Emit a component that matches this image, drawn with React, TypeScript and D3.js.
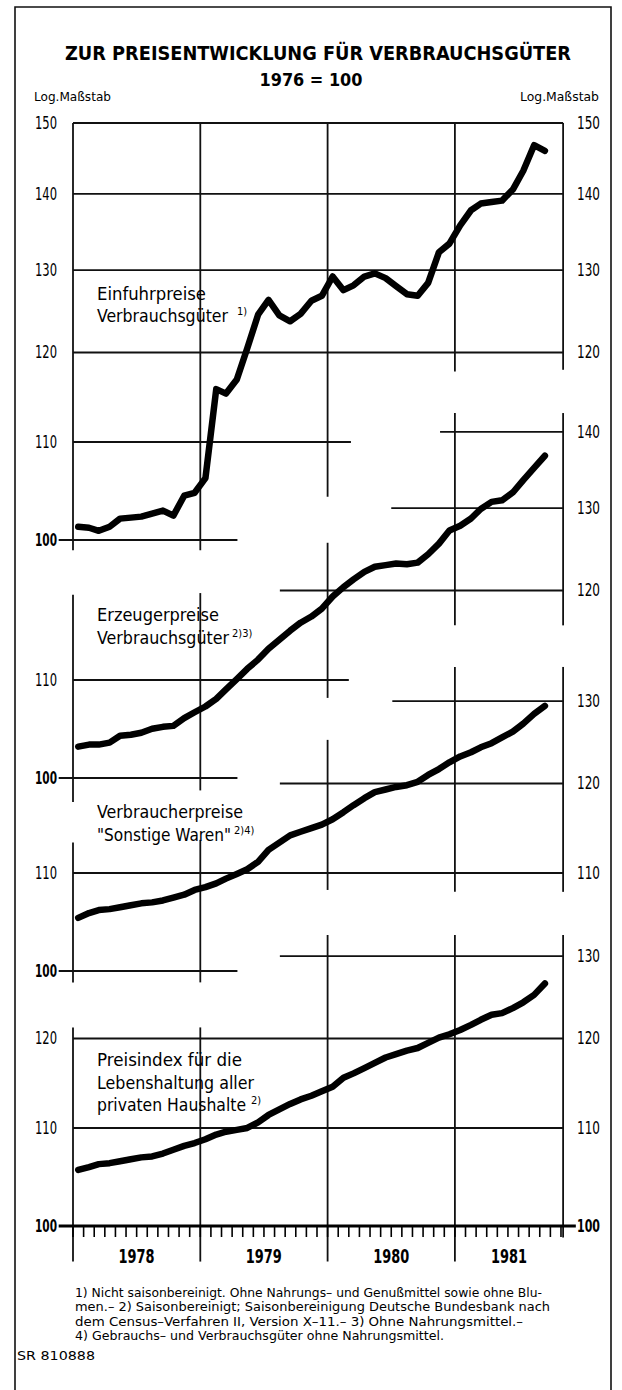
import React from "react";
import * as d3 from "d3";

// ---------- data ----------
const TITLE = "ZUR PREISENTWICKLUNG FÜR VERBRAUCHSGÜTER";
const SUBTITLE = "1976 = 100";
const SCALE_NOTE = "Log.Maßstab";
const YEARS = [1978, 1979, 1980, 1981];
// monthly observations Jan 1978 .. Sep 1981
const MONTHS = d3.timeMonth.range(new Date(1978, 0, 1), new Date(1981, 9, 1));

const EINFUHR = [
  101.3, 101.2, 100.9, 101.3, 102.1, 102.2, 102.3, 102.6, 102.9, 102.4, 104.4, 104.7,
  106.2, 115.8, 115.3, 116.9, 120.5, 124.5, 126.3, 124.4, 123.7, 124.6, 126.2, 126.8,
  129.2, 127.5, 128.1, 129.2, 129.6, 129.0, 128.0, 127.0, 126.8, 128.4, 132.3, 133.4,
  135.8, 137.8, 138.7, 138.9, 139.1, 140.6, 143.2, 146.8, 146.0,
];
const ERZEUGER = [
  103.1, 103.3, 103.3, 103.5, 104.2, 104.3, 104.5, 104.9, 105.1, 105.2, 106.0, 106.6,
  107.2, 108.0, 109.0, 110.1, 111.2, 112.2, 113.4, 114.4, 115.4, 116.3, 117.0, 117.9,
  119.3, 120.4, 121.3, 122.2, 122.8, 123.0, 123.2, 123.1, 123.3, 124.3, 125.6, 127.2,
  127.8, 128.7, 129.9, 130.8, 131.0, 132.0, 133.6, 135.2, 136.8,
];
const VERBRAUCHER = [
  105.3, 105.8, 106.1, 106.2, 106.4, 106.6, 106.8, 106.9, 107.1, 107.4, 107.7, 108.2,
  108.5, 108.9, 109.4, 109.9, 110.4, 111.2, 112.5, 113.3, 114.1, 114.5, 114.9, 115.3,
  115.9, 116.7, 117.5, 118.3, 119.0, 119.3, 119.6, 119.8, 120.2, 121.0, 121.7, 122.5,
  123.2, 123.7, 124.3, 124.8, 125.5, 126.2, 127.2, 128.4, 129.4,
];
const LEBENSHALTUNG = [
  105.6, 105.9, 106.2, 106.3, 106.5, 106.7, 106.9, 107.0, 107.3, 107.7, 108.1, 108.4,
  108.8, 109.3, 109.6, 109.8, 110.0, 110.6, 111.4, 112.0, 112.6, 113.1, 113.5, 114.0,
  114.5, 115.5, 116.0, 116.6, 117.2, 117.8, 118.2, 118.6, 118.9, 119.5, 120.1, 120.5,
  121.0, 121.6, 122.2, 122.8, 123.0, 123.6, 124.3, 125.2, 126.6,
];

const LABEL_EINFUHR = ["Einfuhrpreise", "Verbrauchsgüter"];
const LABEL_ERZEUGER = ["Erzeugerpreise", "Verbrauchsgüter"];
const LABEL_VERBRAUCHER = ["Verbraucherpreise", "\"Sonstige Waren\""];
const LABEL_LEBENSHALTUNG = ["Preisindex für die", "Lebenshaltung aller", "privaten Haushalte"];

const FOOTNOTES = [
  "1) Nicht saisonbereinigt. Ohne Nahrungs– und Genußmittel sowie ohne Blu-",
  "men.– 2) Saisonbereinigt; Saisonbereinigung Deutsche Bundesbank nach",
  "dem Census–Verfahren II, Version X–11.– 3) Ohne Nahrungsmittel.–",
  "4) Gebrauchs– und Verbrauchsgüter ohne Nahrungsmittel.",
];
const SOURCE = "SR 810888";

// ---------- layout ----------
const W = 622;
const H = 1390;
const FONT = "'DejaVu Sans Condensed', 'Liberation Sans Narrow', 'Arial Narrow', 'DejaVu Sans', sans-serif";
const YEAR_W = 127.3;
const x = d3
  .scaleTime()
  .domain([new Date(1978, 0, 1), new Date(1982, 0, 1)])
  .range([73, 73 + 4 * YEAR_W]);
const MONTH_W = YEAR_W / 12;
const xm = (m: number) => x(new Date(1978, 0, 1)) + m * MONTH_W;
const END = 46.2;
const PX_PER_DECADE = 2368;
const yFor = (y100: number) =>
  d3.scaleLog().domain([100, 150]).range([y100, y100 - PX_PER_DECADE * Math.log10(1.5)]);

type Panel = {
  data: number[];
  y100: number;
  hgrid: [number, number, number][];
  vgrid: [number, number, number][];
  left: number[];
  right: number[];
  lines: string[];
  base: number[];
  widths: number[];
  sup: string;
  supX: number;
};

const PANELS: Panel[] = [
  {
    data: EINFUHR,
    y100: 540,
    hgrid: [[150, 0, END], [140, 0, END], [130, 0, END], [120, 0, END], [110, 0, 26.2], [100, -1.35, 15.5]],
    vgrid: [[0, 150, 99.0], [12, 150, 99.0], [24, 150, 104.3], [36, 150, 117.8], [END, 150, 118.0]],
    left: [150, 140, 130, 120, 110, 100],
    right: [150, 140, 130, 120],
    lines: LABEL_EINFUHR,
    base: [300, 322],
    widths: [109, 131],
    sup: "1)",
    supX: 237,
  },
  {
    data: ERZEUGER,
    y100: 778,
    hgrid: [[140, 34.6, END], [130, 30, END], [120, 19.5, END], [110, 0, 26], [100, -1.35, 15.5]],
    vgrid: [[0, 119.5, 97.7], [12, 119.7, 98.8], [24, 125.7, 108.1], [36, 142.6, 116.0], [END, 142.6, 116.0]],
    left: [110, 100],
    right: [140, 130, 120],
    lines: LABEL_ERZEUGER,
    base: [621, 644],
    widths: [122, 132],
    sup: "2)3)",
    supX: 232,
  },
  {
    data: VERBRAUCHER,
    y100: 971,
    hgrid: [[130, 30.1, END], [120, 19.5, END], [110, 0, END], [100, -1.35, 15.5]],
    vgrid: [[0, 113.3, 98.9], [12, 113.6, 98.9], [24, 125.2, 108.2], [36, 134.4, 108.0], [END, 134.4, 108.0]],
    left: [110, 100],
    right: [130, 120, 110],
    lines: LABEL_VERBRAUCHER,
    base: [818, 841],
    widths: [146, 134],
    sup: "2)4)",
    supX: 234,
  },
  {
    data: LEBENSHALTUNG,
    y100: 1226,
    hgrid: [[130, 19.5, END], [120, 0, END], [110, 0, END]],
    vgrid: [[0, 121.3, 96.6], [12, 121.3, 96.6], [24, 132.7, 96.6], [36, 132.7, 96.6], [END, 132.7, 98.9]],
    left: [120, 110, 100],
    right: [130, 120, 110, 100],
    lines: LABEL_LEBENSHALTUNG,
    base: [1066, 1089, 1111],
    widths: [145, 157, 149],
    sup: "2)",
    supX: 251,
  },
];

const mid = (d: Date) => d3.timeDay.offset(d, 15);

export default function App() {
  const bottom = PANELS[3];
  const yb = yFor(bottom.y100);
  const ticks = d3.range(0, Math.floor(END) + 1);
  return (
    <svg
      width={W}
      height={H}
      viewBox={`0 0 ${W} ${H}`}
      style={{ position: "absolute", left: 0, top: 0, background: "#fff" }}
      fontFamily={FONT}
    >
      <rect x={0} y={0} width={W} height={H} fill="#fff" />
      <path d={`M15,${H} V7 H611 V${H}`} fill="none" stroke="#111" strokeWidth={1.6} />

      <text x={318} y={60} textAnchor="middle" fontSize={20} fontWeight="bold" textLength={506} lengthAdjust="spacingAndGlyphs">
        {TITLE}
      </text>
      <text x={311} y={86} textAnchor="middle" fontSize={18} fontWeight="bold" textLength={103} lengthAdjust="spacingAndGlyphs">
        {SUBTITLE}
      </text>
      <text x={34} y={101} fontSize={13} textLength={77} lengthAdjust="spacingAndGlyphs">
        {SCALE_NOTE}
      </text>
      <text x={520} y={101} fontSize={13} textLength={79} lengthAdjust="spacingAndGlyphs">
        {SCALE_NOTE}
      </text>

      {PANELS.map((p, pi) => {
        const y = yFor(p.y100);
        const line = d3
          .line<number>()
          .x((_, i) => x(mid(MONTHS[i])))
          .y((v) => y(v))
          .curve(d3.curveLinear);
        return (
          <g key={pi}>
            {p.hgrid.map(([v, a, b], i) => (
              <line key={"h" + i} x1={xm(a)} x2={xm(b)} y1={y(v)} y2={y(v)} stroke="#111" strokeWidth={1.8} />
            ))}
            {p.vgrid.map(([m, t, bt], i) => (
              <line key={"v" + i} x1={xm(m)} x2={xm(m)} y1={y(t)} y2={y(bt)} stroke="#111" strokeWidth={1.8} />
            ))}
            {p.left.map((v) => (
              <text
                key={"l" + v}
                x={57}
                y={y(v) + 6}
                textAnchor="end"
                fontSize={17}
                fontWeight={v === 100 ? "bold" : "normal"}
                textLength={22}
                lengthAdjust="spacingAndGlyphs"
              >
                {v}
              </text>
            ))}
            {p.right.map((v) => (
              <text
                key={"r" + v}
                x={577}
                y={y(v) + 6}
                fontSize={17}
                fontWeight={v === 100 ? "bold" : "normal"}
                textLength={23}
                lengthAdjust="spacingAndGlyphs"
              >
                {v}
              </text>
            ))}
            {p.lines.map((t, i) => (
              <text key={"t" + i} x={97} y={p.base[i]} fontSize={17} textLength={p.widths[i]} lengthAdjust="spacingAndGlyphs">
                {t}
              </text>
            ))}
            <text x={p.supX} y={p.base[p.base.length - 1] - 7} fontSize={11}>
              {p.sup}
            </text>
            <path
              d={line(p.data) || ""}
              fill="none"
              stroke="#000"
              strokeWidth={6.5}
              strokeLinejoin="round"
              strokeLinecap="round"
            />
          </g>
        );
      })}

      {/* bottom axis */}
      <line x1={xm(-1.35)} x2={xm(END + 1.2)} y1={yb(100)} y2={yb(100)} stroke="#000" strokeWidth={3} />
      {ticks.map((k) => (
        <line key={"mt" + k} x1={xm(k)} x2={xm(k)} y1={yb(100)} y2={yb(100) + 11} stroke="#000" strokeWidth={1.6} />
      ))}
      {YEARS.map((yr) => {
        const a = x(new Date(yr, 0, 1));
        const b = Math.min(x(new Date(yr + 1, 0, 1)), xm(END));
        return (
          <text
            key={yr}
            x={(a + b) / 2}
            y={1263}
            textAnchor="middle"
            fontSize={19}
            fontWeight="bold"
            textLength={36}
            lengthAdjust="spacingAndGlyphs"
          >
            {yr}
          </text>
        );
      })}

      {FOOTNOTES.map((t, i) => (
        <text
          key={"f" + i}
          x={75}
          y={1297 + i * 14.3}
          fontSize={12}
          textLength={[467, 475, 448, 369][i]}
          lengthAdjust="spacingAndGlyphs"
        >
          {t}
        </text>
      ))}
      <text x={17} y={1360} fontSize={13} textLength={78} lengthAdjust="spacingAndGlyphs">
        {SOURCE}
      </text>
    </svg>
  );
}
